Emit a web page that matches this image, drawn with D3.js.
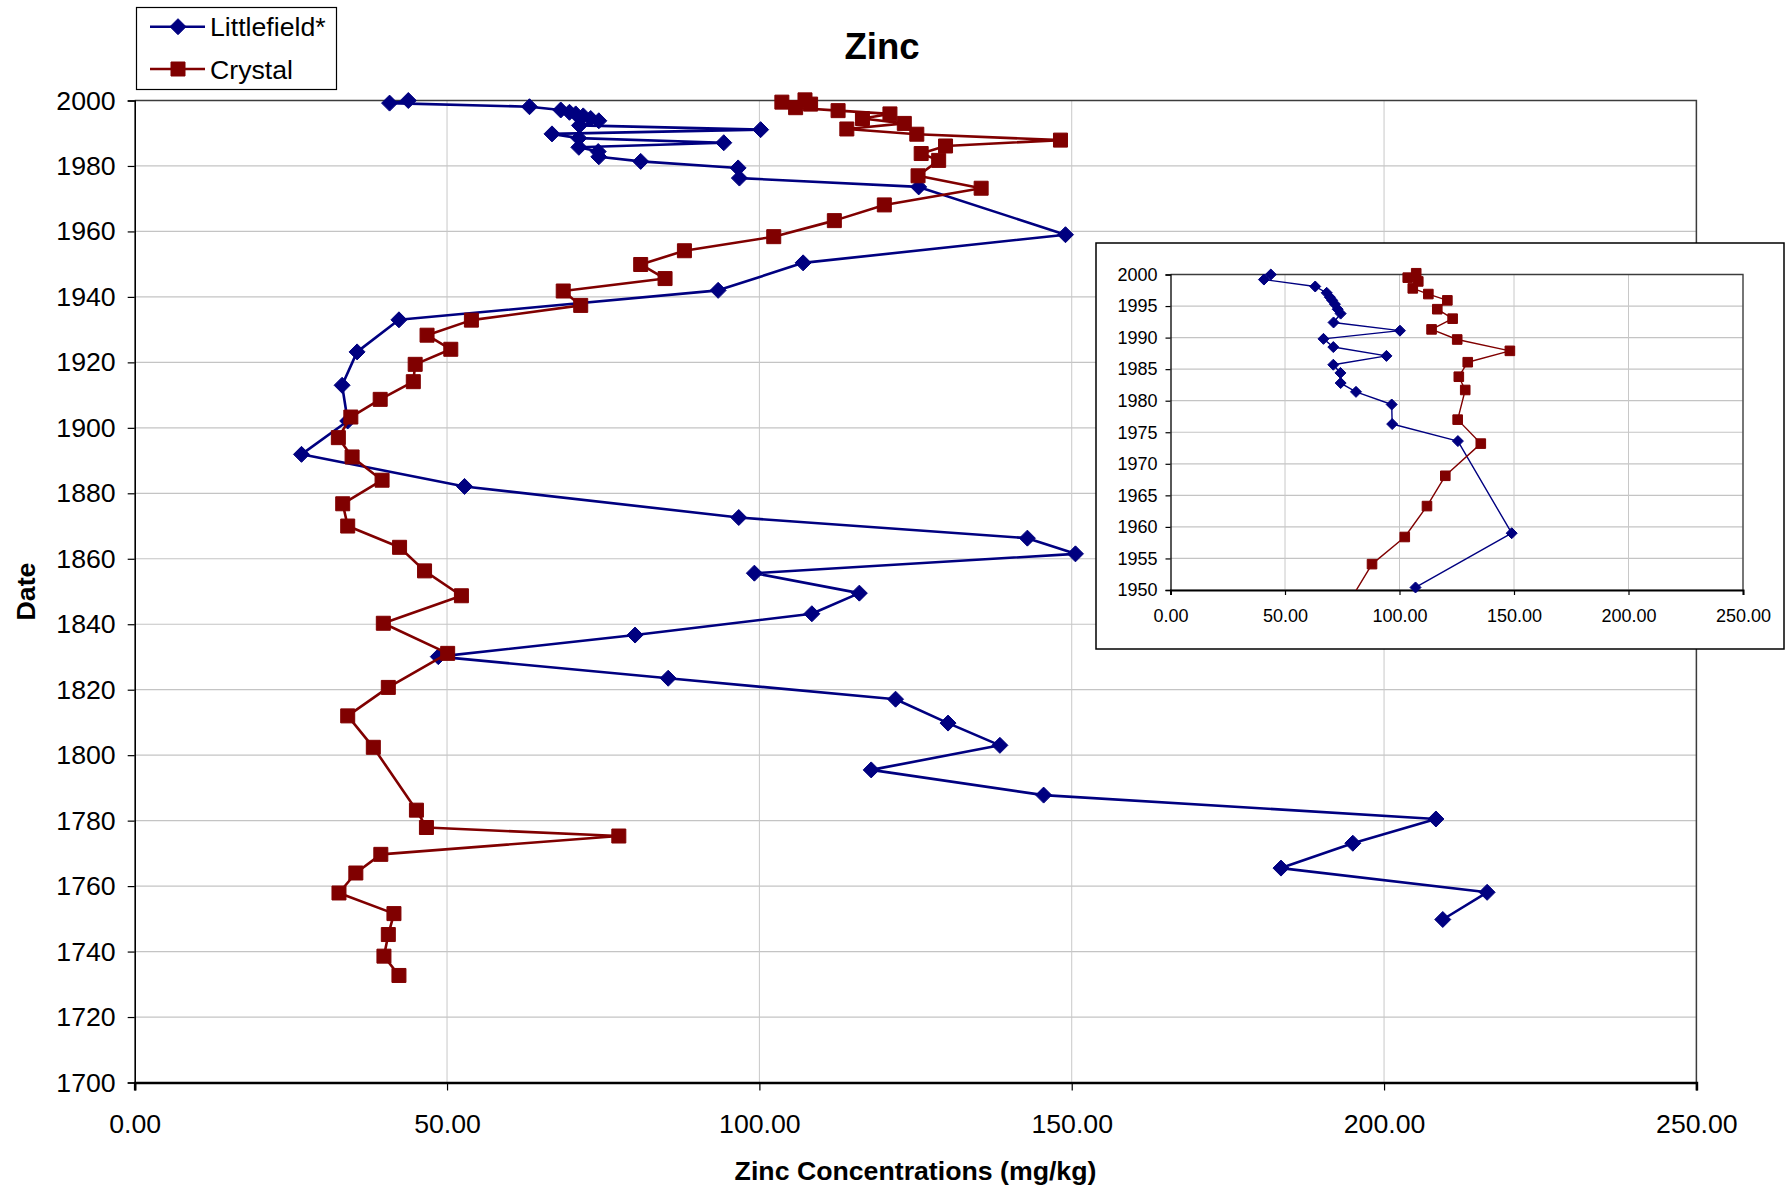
<!DOCTYPE html>
<html>
<head>
<meta charset="utf-8">
<script src="https://cdn.jsdelivr.net/npm/d3@7"></script>
<style>
  body { margin: 0; background: #fff; }
  svg { display: block; font-family: "Liberation Sans", Arial, sans-serif; }
</style>
</head>
<body>
<svg id="chart" width="1790" height="1187"></svg>
<script>
// Zinc concentrations (mg/kg) by sediment date for the two lake cores
const littlefieldYears = [
  2000.0, 1999.2, 1998.1, 1997.1, 1996.4, 1995.9, 1995.3, 1994.5, 1993.8, 1992.4,
  1991.1, 1989.8, 1988.5, 1987.1, 1985.7, 1984.4, 1982.8, 1981.4, 1979.4, 1976.3,
  1973.6, 1959.0, 1950.4, 1942.0, 1933.0, 1923.2, 1913.0, 1902.1, 1891.9, 1882.1,
  1872.6, 1866.3, 1861.5, 1855.6, 1849.5, 1843.2, 1836.7, 1830.1, 1823.5, 1817.1,
  1809.8, 1803.0, 1795.5, 1787.8, 1780.5, 1773.1, 1765.5, 1758.1, 1749.8
];
const littlefieldZinc = [
  43.8, 40.8, 63.2, 68.2, 69.6, 70.6, 71.8, 73.0, 74.3, 71.2,
  100.2, 66.8, 71.1, 94.3, 71.1, 74.2, 74.3, 81.0, 96.6, 96.8,
  125.5, 149.0, 107.0, 93.4, 42.3, 35.6, 33.2, 34.1, 26.7, 52.8,
  96.7, 142.9, 150.6, 99.2, 116.0, 108.4, 80.1, 48.6, 85.4, 121.8,
  130.2, 138.5, 117.9, 145.5, 208.3, 195.0, 183.5, 216.5, 209.4
];

const crystalYears = [
  2000.2, 1999.5, 1998.9, 1997.8, 1996.9, 1995.9, 1994.5, 1993.0, 1991.3, 1989.7,
  1987.9, 1986.1, 1983.8, 1981.7, 1977.0, 1973.2, 1968.1, 1963.3, 1958.4, 1954.1,
  1949.9, 1945.6, 1941.8, 1937.4, 1932.9, 1928.3, 1924.0, 1919.4, 1914.1, 1908.7,
  1903.3, 1897.0, 1891.1, 1884.0, 1876.8, 1870.0, 1863.5, 1856.3, 1848.7, 1840.3,
  1831.1, 1820.7, 1812.0, 1802.4, 1783.2, 1777.9, 1775.3, 1769.7, 1764.0, 1757.9,
  1751.6, 1745.2, 1738.6, 1732.7
];
const crystalZinc = [
  107.3, 103.6, 108.2, 105.8, 112.6, 120.9, 116.5, 123.2, 114.0, 125.2,
  148.2, 129.8, 125.9, 128.7, 125.4, 135.5, 120.0, 112.0, 102.3, 88.0,
  81.0, 84.9, 68.6, 71.4, 53.9, 46.8, 50.6, 44.9, 44.6, 39.3,
  34.6, 32.6, 34.8, 39.6, 33.3, 34.1, 42.4, 46.4, 52.3, 39.8,
  50.1, 40.6, 34.1, 38.2, 45.1, 46.7, 77.5, 39.4, 35.4, 32.7,
  41.5, 40.6, 39.9, 42.3
];

const zincTicks = [0, 50, 100, 150, 200, 250];
const yearTicks = [1700, 1720, 1740, 1760, 1780, 1800, 1820, 1840, 1860, 1880,
                   1900, 1920, 1940, 1960, 1980, 2000];
const insetYearTicks = [1950, 1955, 1960, 1965, 1970, 1975, 1980, 1985, 1990, 1995, 2000];

const seriesList = [
  { name: "Littlefield*", color: "#000080", shape: "diamond", years: littlefieldYears, zinc: littlefieldZinc },
  { name: "Crystal", color: "#800000", shape: "square", years: crystalYears, zinc: crystalZinc }
];

const svg = d3.select("#chart");
const fmt = d3.format(".2f");

function markerPath(shape, r) {
  if (shape === "diamond") return `M0,${-r}L${r},0L0,${r}L${-r},0Z`;
  return `M${-r},${-r}H${r}V${r}H${-r}Z`;
}

// Draws one date profile panel (used for the full record and the recent close-up)
function drawPanel(g, o) {
  const x = d3.scaleLinear().domain([0, 250]).range([o.left, o.right]);
  const y = d3.scaleLinear().domain(o.yDomain).range([o.bottom, o.top]);
  const clipId = "clip-" + o.id;

  g.append("clipPath").attr("id", clipId)
    .append("rect")
    .attr("x", o.left).attr("y", o.top)
    .attr("width", o.right - o.left).attr("height", o.bottom - o.top);

  // grid
  g.append("g").selectAll("line.h").data(o.yTicks).join("line")
    .attr("x1", o.left).attr("x2", o.right)
    .attr("y1", d => y(d)).attr("y2", d => y(d))
    .attr("stroke", "#c4c4c4").attr("stroke-width", 1.2);
  g.append("g").selectAll("line.v").data(zincTicks.slice(1)).join("line")
    .attr("x1", d => x(d)).attr("x2", d => x(d))
    .attr("y1", o.top).attr("y2", o.bottom)
    .attr("stroke", "#c8c8c8").attr("stroke-width", 1);

  // frame: top and right edges
  g.append("path")
    .attr("d", `M${o.left},${o.top}H${o.right}V${o.bottom}`)
    .attr("fill", "none").attr("stroke", "#3c3c3c").attr("stroke-width", o.frameW);

  // axes
  const xAxis = d3.axisBottom(x).tickValues(zincTicks).tickFormat(fmt)
    .tickSize(o.xTickLen).tickPadding(o.xPad);
  const gx = g.append("g").attr("transform", `translate(0,${o.bottom})`).call(xAxis);
  gx.select(".domain").attr("stroke", "#000").attr("stroke-width", o.xAxisW);
  gx.selectAll(".tick line").attr("stroke", "#000").attr("stroke-width", 1.2);
  gx.selectAll(".tick text").attr("font-size", o.fontSize).attr("fill", "#000")
    .attr("font-family", '"Liberation Sans", Arial, sans-serif');

  const yAxis = d3.axisLeft(y).tickValues(o.yTicks).tickFormat(d3.format("d"))
    .tickSize(o.yTickLen).tickPadding(o.yPad);
  const gy = g.append("g").attr("transform", `translate(${o.left},0)`).call(yAxis);
  gy.select(".domain").attr("stroke", "#000").attr("stroke-width", o.yAxisW);
  gy.selectAll(".tick line").attr("stroke", "#000").attr("stroke-width", 1.2);
  gy.selectAll(".tick text").attr("font-size", o.fontSize).attr("fill", "#000")
    .attr("font-family", '"Liberation Sans", Arial, sans-serif');

  // series: lines clipped to the plot area, markers on top
  const line = d3.line().x(d => x(d.v)).y(d => y(d.t));
  seriesList.forEach(s => {
    const pts = s.years.map((t, i) => ({ t, v: s.zinc[i] }));
    g.append("path").datum(pts)
      .attr("clip-path", `url(#${clipId})`)
      .attr("d", line)
      .attr("fill", "none").attr("stroke", s.color)
      .attr("stroke-width", o.lineW).attr("stroke-linejoin", "round");
    const lo = o.yDomain[0], hi = o.yDomain[1] + 1;
    g.append("g").selectAll("path")
      .data(pts.filter(p => p.t >= lo && p.t <= hi)).join("path")
      .attr("transform", p => `translate(${x(p.v)},${y(p.t)})`)
      .attr("d", markerPath(s.shape, s.shape === "diamond" ? o.diamondR : o.squareR))
      .attr("fill", s.color).attr("stroke", s.color).attr("stroke-width", 1)
      .attr("stroke-linejoin", "round");
  });
}

// main chart: full record
const mainG = svg.append("g");
drawPanel(mainG, {
  id: "main", left: 134.7, right: 1696.4, top: 100.5, bottom: 1082.5,
  yDomain: [1700, 2000], yTicks: yearTicks,
  xTickLen: 8, xPad: 24, yTickLen: 7, yPad: 12,
  fontSize: 26.7, lineW: 2.6, diamondR: 8, squareR: 7,
  frameW: 1.5, xAxisW: 2.6, yAxisW: 1.6
});

// titles
svg.append("text").attr("x", 882).attr("y", 58.5)
  .attr("text-anchor", "middle").attr("font-size", 36.6).attr("font-weight", "bold")
  .text("Zinc");
svg.append("text").attr("x", 915.5).attr("y", 1179.5)
  .attr("text-anchor", "middle").attr("font-size", 26.7).attr("font-weight", "bold")
  .text("Zinc Concentrations (mg/kg)");
svg.append("text").attr("transform", "translate(34.5,591.5) rotate(-90)")
  .attr("text-anchor", "middle").attr("font-size", 26.7).attr("font-weight", "bold")
  .text("Date");

// legend
const legend = svg.append("g");
legend.append("rect").attr("x", 136.5).attr("y", 7.5).attr("width", 200).attr("height", 82)
  .attr("fill", "#fff").attr("stroke", "#000").attr("stroke-width", 1.2);
seriesList.forEach((s, i) => {
  const cy = 26.7 + i * 42.3;
  legend.append("line").attr("x1", 150).attr("x2", 205).attr("y1", cy).attr("y2", cy)
    .attr("stroke", s.color).attr("stroke-width", 2.6);
  legend.append("path").attr("transform", `translate(178,${cy})`)
    .attr("d", markerPath(s.shape, s.shape === "diamond" ? 8 : 7))
    .attr("fill", s.color).attr("stroke", s.color).attr("stroke-width", 1);
  legend.append("text").attr("x", 210).attr("y", cy + 9.5)
    .attr("font-size", 26.7).attr("fill", "#000").text(s.name);
});

// inset: close-up of 1950–2000
const insetG = svg.append("g");
insetG.append("rect").attr("x", 1096).attr("y", 243).attr("width", 688).attr("height", 406)
  .attr("fill", "#fff").attr("stroke", "#000").attr("stroke-width", 1.5);
drawPanel(insetG, {
  id: "inset", left: 1170.5, right: 1743, top: 274.5, bottom: 590,
  yDomain: [1950, 2000], yTicks: insetYearTicks,
  xTickLen: 5, xPad: 14, yTickLen: 5, yPad: 8,
  fontSize: 18, lineW: 1.4, diamondR: 5.5, squareR: 4.8,
  frameW: 1.3, xAxisW: 2, yAxisW: 1.3
});
</script>
</body>
</html>
